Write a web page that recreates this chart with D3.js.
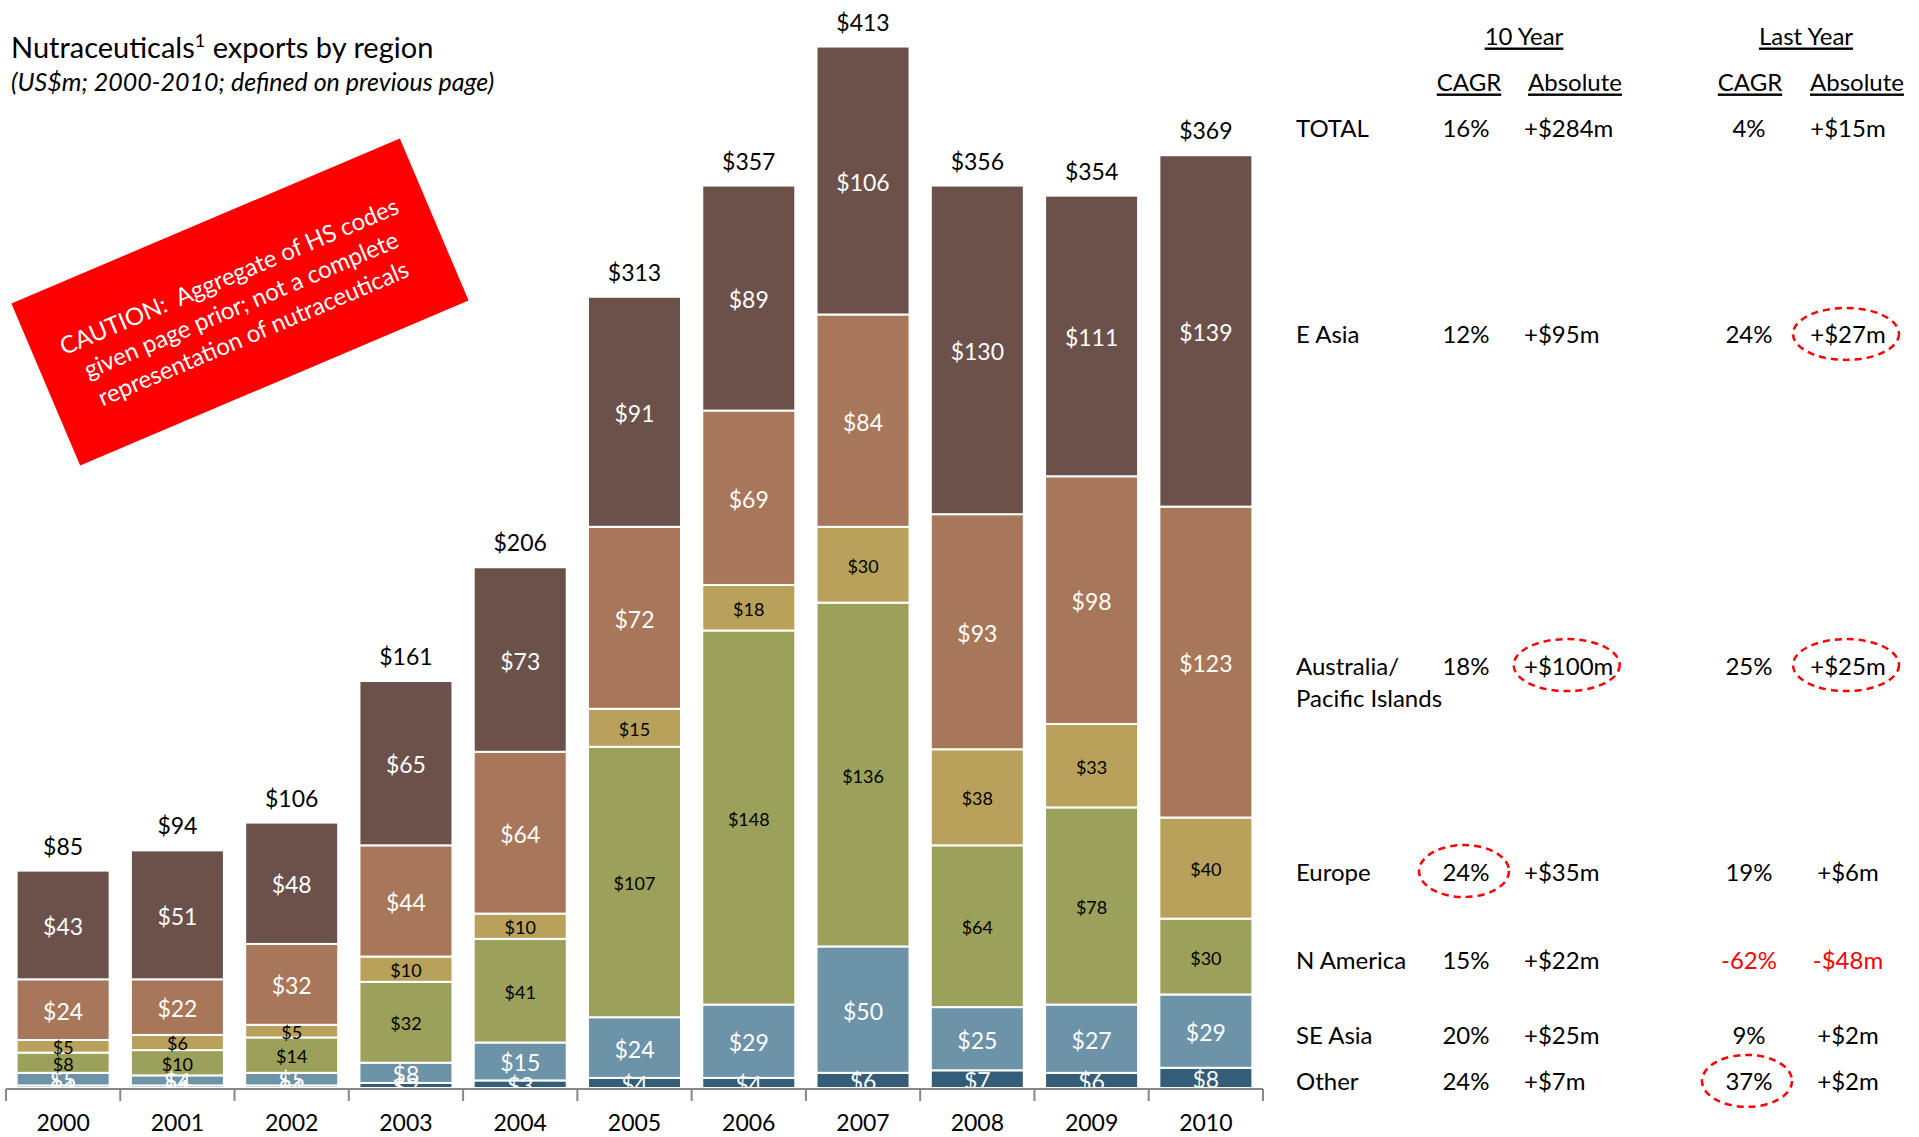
<!DOCTYPE html>
<html>
<head>
<meta charset="utf-8">
<script src="https://cdn.jsdelivr.net/npm/d3@7"></script>
<style>
  html, body { margin: 0; padding: 0; background: #fff; }
  svg { display: block; font-family: Lato, "Open Sans", sans-serif; }
</style>
</head>
<body>
<svg id="chart" width="1919" height="1137"></svg>
<script>
// ---------- data ----------
const years = ["2000","2001","2002","2003","2004","2005","2006","2007","2008","2009","2010"];
const regions = ["Other","SE Asia","N America","Europe","Australia/Pacific Islands","E Asia"];
const other     = [1, 1, 1, 2, 3, 4, 4, 6, 7, 6, 8];
const seAsia    = [5, 4, 5, 8, 15, 24, 29, 50, 25, 27, 29];
const nAmerica  = [8, 10, 14, 32, 41, 107, 148, 136, 64, 78, 30];
const europe    = [5, 6, 5, 10, 10, 15, 18, 30, 38, 33, 40];
const australia = [24, 22, 32, 44, 64, 72, 69, 84, 93, 98, 123];
const eAsia     = [43, 51, 48, 65, 73, 91, 89, 106, 130, 111, 139];
const totals    = [85, 94, 106, 161, 206, 313, 357, 413, 356, 354, 369];

const seriesValues = [other, seAsia, nAmerica, europe, australia, eAsia];
const seriesColors = ["#335D78","#6D93A9","#9BA05A","#B9A05B","#A8775A","#6B514A"];
const labelColors  = ["#fff","#fff","#000","#000","#fff","#fff"];
const labelSizes   = [23, 23, 18, 18, 23, 23];

// table
const tableRows   = ["TOTAL","E Asia","Australia/Pacific Islands","Europe","N America","SE Asia","Other"];
const cagr10      = ["16%","12%","18%","24%","15%","20%","24%"];
const abs10       = ["+$284m","+$95m","+$100m","+$35m","+$22m","+$25m","+$7m"];
const cagrLast    = ["4%","24%","25%","19%","-62%","9%","37%"];
const absLast     = ["+$15m","+$27m","+$25m","+$6m","-$48m","+$2m","+$2m"];
const negativeRow = "N America";
const highlights  = [["E Asia","absLast"],["Australia/Pacific Islands","abs10"],["Australia/Pacific Islands","absLast"],["Europe","cagr10"],["Other","cagrLast"]];

// ---------- drawing ----------
const svg = d3.select("#chart");

const x = d3.scaleBand().domain(years).range([6, 1263]).paddingInner(0.186).paddingOuter(0.093);
const y = d3.scaleLinear().domain([0, d3.max(totals)]).range([1088, 44]);

const table = years.map((yr, i) => {
  const o = { year: yr };
  regions.forEach((r, k) => o[r] = seriesValues[k][i]);
  return o;
});
const stack = d3.stack().keys(regions)(table);

// bars
const layers = svg.append("g").selectAll("g").data(stack).join("g")
  .attr("fill", (d, k) => seriesColors[k]);
layers.selectAll("rect").data(d => d).join("rect")
  .attr("x", d => x(d.data.year))
  .attr("width", x.bandwidth())
  .attr("y", d => y(d[1]))
  .attr("height", d => y(d[0]) - y(d[1]))
  .attr("stroke", "#fff").attr("stroke-width", 2);

// segment labels
stack.forEach((layer, k) => {
  svg.append("g").selectAll("text").data(layer).join("text")
    .attr("x", d => x(d.data.year) + x.bandwidth() / 2)
    .attr("y", d => (y(d[0]) + y(d[1])) / 2 + 1)
    .attr("text-anchor", "middle")
    .attr("dominant-baseline", "central")
    .attr("fill", labelColors[k])
    .attr("font-size", labelSizes[k])
    .text(d => "$" + (d[1] - d[0]));
});

// total labels
const tops = years.map((yr, i) => d3.sum(seriesValues, s => s[i]));
svg.append("g").selectAll("text").data(years).join("text")
  .attr("x", d => x(d) + x.bandwidth() / 2)
  .attr("y", (d, i) => y(tops[i]) - 25)
  .attr("text-anchor", "middle")
  .attr("dominant-baseline", "central")
  .attr("font-size", 23)
  .attr("fill", "#000")
  .text((d, i) => "$" + totals[i]);

// axis
const axisY = 1089;
const axisG = svg.append("g");
axisG.append("line").attr("x1", x.range()[0]).attr("x2", x.range()[1])
  .attr("y1", axisY).attr("y2", axisY).attr("stroke", "#888").attr("stroke-width", 2);
const step = x.step();
const boundaries = years.map(yr => x(yr) - (step - x.bandwidth()) / 2).concat([x.range()[1]]);
axisG.selectAll("line.tick").data(boundaries).join("line").attr("class","tick")
  .attr("x1", d => d).attr("x2", d => d)
  .attr("y1", axisY).attr("y2", axisY + 12)
  .attr("stroke", "#888").attr("stroke-width", 2);
axisG.selectAll("text").data(years).join("text")
  .attr("x", d => x(d) + x.bandwidth() / 2)
  .attr("y", 1122)
  .attr("text-anchor", "middle").attr("dominant-baseline", "central")
  .attr("font-size", 23).text(d => d);

// title
const title = svg.append("text").attr("x", 11).attr("y", 58).attr("font-size", 29).attr("fill", "#000");
title.append("tspan").text("Nutraceuticals");
title.append("tspan").attr("font-size", 18).attr("dy", -11).text("1");
title.append("tspan").attr("dy", 11).text(" exports by region");
svg.append("text").attr("x", 11).attr("y", 91).attr("font-size", 25).attr("font-style", "italic")
  .text("(US$m; 2000-2010; defined on previous page)");

// caution box
const caution = svg.append("g").attr("transform", "translate(240,302) rotate(-23)");
caution.append("rect").attr("x", -211).attr("y", -88).attr("width", 422).attr("height", 176).attr("fill", "#FE0000");
const cautionLines = ["CAUTION:  Aggregate of HS codes", "given page prior; not a complete", "representation of nutraceuticals"];
caution.selectAll("text").data(cautionLines).join("text")
  .attr("x", 0).attr("y", (d, i) => (i - 1) * 31 + 2)
  .attr("text-anchor", "middle").attr("dominant-baseline", "central")
  .attr("fill", "#fff").attr("font-size", 24)
  .attr("xml:space", "preserve").style("white-space", "pre")
  .text(d => d);

// ---------- table ----------
const tg = svg.append("g").attr("font-size", 24).attr("fill", "#000");
const headerY1 = 35, headerY2 = 81;
[["10 Year", 1524], ["Last Year", 1806]].forEach(([t, cx]) => {
  tg.append("text").attr("x", cx).attr("y", headerY1).attr("text-anchor", "middle")
    .attr("dominant-baseline", "central").attr("text-decoration", "underline").text(t);
});
[["CAGR", 1469], ["Absolute", 1575], ["CAGR", 1750], ["Absolute", 1857]].forEach(([t, cx]) => {
  tg.append("text").attr("x", cx).attr("y", headerY2).attr("text-anchor", "middle")
    .attr("dominant-baseline", "central").attr("text-decoration", "underline").text(t);
});

const last = years.length - 1;
const lastStack = stack.map(l => l[last]);
function rowY(name) {
  if (name === "TOTAL") return y(tops[last]) - 28;
  const k = regions.indexOf(name);
  const d = lastStack[k];
  return (y(d[0]) + y(d[1])) / 2 + 3;
}
const cols = {
  cagr10:   { x: 1466, anchor: "middle", vals: cagr10 },
  abs10:    { x: 1524, anchor: "start",  vals: abs10 },
  cagrLast: { x: 1749, anchor: "middle", vals: cagrLast },
  absLast:  { x: 1848, anchor: "middle", vals: absLast }
};
const cellNodes = {};
tableRows.forEach((name, r) => {
  const ry = rowY(name);
  const lab = tg.append("text").attr("x", 1296).attr("y", ry).attr("dominant-baseline", "central");
  if (name.includes("/")) {
    const parts = name.split("/");
    lab.append("tspan").attr("x", 1296).text(parts[0] + "/");
    lab.append("tspan").attr("x", 1296).attr("dy", 32).text(parts[1]);
  } else lab.text(name);
  Object.entries(cols).forEach(([key, c]) => {
    const red = name === negativeRow && (key === "cagrLast" || key === "absLast");
    const t = tg.append("text").attr("x", c.x).attr("y", ry)
      .attr("text-anchor", c.anchor).attr("dominant-baseline", "central")
      .attr("fill", red ? "#FF0000" : "#000").text(c.vals[r]);
    cellNodes[name + "|" + key] = t.node();
  });
});

// dashed highlight ellipses
highlights.forEach(([row, key]) => {
  const bb = cellNodes[row + "|" + key].getBBox();
  const rx = Math.max(45, Math.min(53, bb.width / 2 + 20));
  svg.append("ellipse")
    .attr("cx", bb.x + bb.width / 2 - 2).attr("cy", rowY(row))
    .attr("rx", rx).attr("ry", 26)
    .attr("fill", "none").attr("stroke", "#FF0000")
    .attr("stroke-width", 2.5).attr("stroke-dasharray", "7,5");
});
</script>
</body>
</html>
